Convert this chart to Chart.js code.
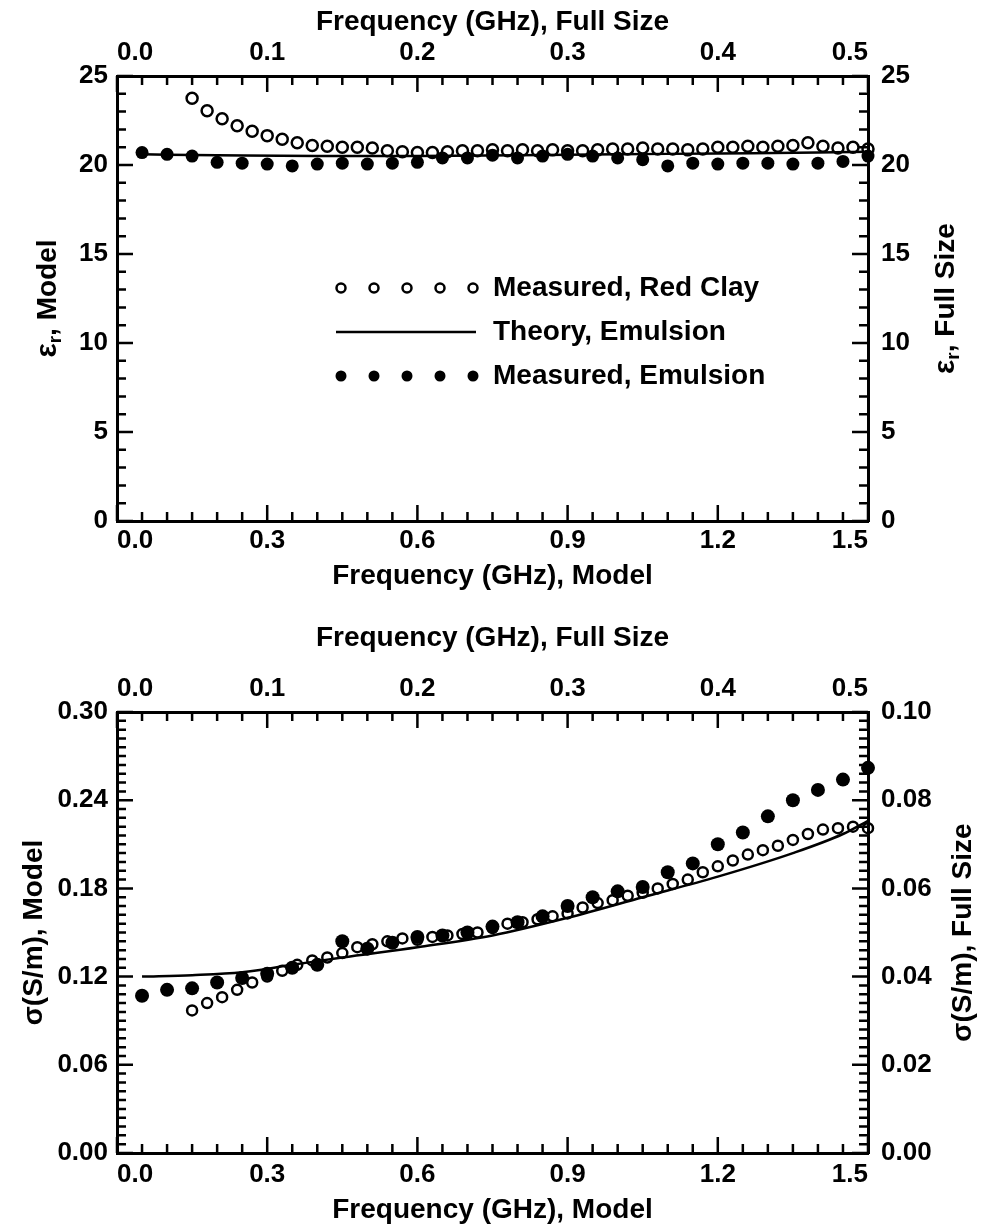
<!DOCTYPE html>
<html>
<head>
<meta charset="utf-8">
<script src="https://cdn.jsdelivr.net/npm/chart.js@4.4.1/dist/chart.umd.min.js"></script>
<style>
  body { margin: 0; background: #fff; }
  canvas { position: absolute; left: 0; }
  #epsChart { top: 0; }
  #sigmaChart { top: 620px; }
</style>
</head>
<body>
<canvas id="epsChart" width="983" height="600"></canvas>
<canvas id="sigmaChart" width="983" height="612"></canvas>
<script>
// tick values / labels
const freqModelTicks = [0, 0.3, 0.6, 0.9, 1.2, 1.5];
const freqModelLabels = ['0.0', '0.3', '0.6', '0.9', '1.2', '1.5'];
const freqFullTicks = [0, 0.1, 0.2, 0.3, 0.4, 0.5];
const freqFullLabels = ['0.0', '0.1', '0.2', '0.3', '0.4', '0.5'];
const epsTicks = [0, 5, 10, 15, 20, 25];
const epsLabels = ['0', '5', '10', '15', '20', '25'];
const sigModelTicks = [0, 0.06, 0.12, 0.18, 0.24, 0.30];
const sigModelLabels = ['0.00', '0.06', '0.12', '0.18', '0.24', '0.30'];
const sigFullTicks = [0, 0.02, 0.04, 0.06, 0.08, 0.10];
const sigFullLabels = ['0.00', '0.02', '0.04', '0.06', '0.08', '0.10'];

// measured red clay (model GHz)
const clayFreq = [0.15, 0.18, 0.21, 0.24, 0.27, 0.30, 0.33, 0.36, 0.39, 0.42, 0.45, 0.48, 0.51, 0.54, 0.57,
  0.60, 0.63, 0.66, 0.69, 0.72, 0.75, 0.78, 0.81, 0.84, 0.87, 0.90, 0.93, 0.96, 0.99, 1.02, 1.05, 1.08,
  1.11, 1.14, 1.17, 1.20, 1.23, 1.26, 1.29, 1.32, 1.35, 1.38, 1.41, 1.44, 1.47, 1.50];
const clayEps = [23.75, 23.05, 22.6, 22.2, 21.9, 21.65, 21.45, 21.25, 21.1, 21.05, 21.0, 21.0, 20.95, 20.8, 20.75,
  20.7, 20.7, 20.75, 20.8, 20.8, 20.85, 20.8, 20.85, 20.8, 20.85, 20.8, 20.8, 20.85, 20.9, 20.9, 20.95, 20.9,
  20.9, 20.85, 20.9, 21.0, 21.0, 21.05, 21.0, 21.05, 21.1, 21.25, 21.05, 20.95, 21.0, 20.9];
const claySigma = [0.097, 0.102, 0.106, 0.111, 0.116, 0.120, 0.124, 0.128, 0.131, 0.133, 0.136, 0.140, 0.142, 0.144, 0.146,
  0.145, 0.147, 0.148, 0.149, 0.150, 0.153, 0.156, 0.157, 0.159, 0.161, 0.163, 0.167, 0.170, 0.172, 0.175, 0.177, 0.180,
  0.183, 0.186, 0.191, 0.195, 0.199, 0.203, 0.206, 0.209, 0.213, 0.217, 0.220, 0.221, 0.222, 0.221];

// measured emulsion
const emulFreq = [0.05, 0.10, 0.15, 0.20, 0.25, 0.30, 0.35, 0.40, 0.45, 0.50, 0.55, 0.60, 0.65, 0.70, 0.75,
  0.80, 0.85, 0.90, 0.95, 1.00, 1.05, 1.10, 1.15, 1.20, 1.25, 1.30, 1.35, 1.40, 1.45, 1.50];
const emulEps = [20.7, 20.6, 20.5, 20.15, 20.1, 20.05, 19.95, 20.05, 20.1, 20.05, 20.1, 20.15, 20.4, 20.4, 20.55,
  20.4, 20.5, 20.6, 20.5, 20.4, 20.3, 19.95, 20.1, 20.05, 20.1, 20.1, 20.05, 20.1, 20.2, 20.5];
const emulSigma = [0.107, 0.111, 0.112, 0.116, 0.119, 0.122, 0.126, 0.128, 0.144, 0.139, 0.143, 0.147, 0.148, 0.150, 0.154,
  0.157, 0.161, 0.168, 0.174, 0.178, 0.181, 0.191, 0.197, 0.210, 0.218, 0.229, 0.240, 0.247, 0.254, 0.262];

// theory, emulsion
const theoryFreqEps = [0.05, 0.2, 0.4, 0.6, 0.8, 1.0, 1.2, 1.4, 1.5];
const theoryEps = [20.6, 20.55, 20.5, 20.5, 20.55, 20.6, 20.65, 20.7, 20.75];
const theoryFreqSig = [0.05, 0.15, 0.25, 0.35, 0.45, 0.6, 0.75, 0.9, 1.05, 1.2, 1.35, 1.45, 1.5];
const theorySigma = [0.120, 0.121, 0.123, 0.128, 0.133, 0.140, 0.148, 0.160, 0.174, 0.188, 0.204, 0.217, 0.226];

const FONT = "'Liberation Sans', Arial, sans-serif";
Chart.defaults.font.family = FONT;
Chart.defaults.font.weight = 'bold';
Chart.defaults.color = '#000';

function pts(xs, ys) {
    return xs.map((x, i) => ({x: x, y: ys[i]}));
}

function fixedAxis(position, min, max, ticks, labels, size, padding, title) {
    const horiz = position === 'top' || position === 'bottom';
    return {
        type: 'linear',
        position: position,
        min: min,
        max: max,
        afterBuildTicks: s => { s.ticks = ticks.map(v => ({value: v})); },
        afterFit: s => { if (horiz) s.height = size; else s.width = size; },
        ticks: {
            callback: (v, i) => labels[i],
            font: {size: 26, weight: 'bold'},
            color: '#000',
            padding: padding,
            align: horiz ? 'inner' : 'center'
        },
        grid: {display: false, drawTicks: false},
        border: {display: true, color: '#000', width: 3},
        title: title ? {
            display: true,
            text: title.text,
            font: {size: 28, weight: 'bold'},
            color: '#000',
            padding: title.padding
        } : {display: false}
    };
}

// inward tick marks on all four sides, plus the two vertical titles
const frameMarks = {
    id: 'frameMarks',
    afterDraw(chart, args, o) {
        const {ctx, chartArea: a, scales} = chart;
        ctx.save();
        ctx.strokeStyle = '#000';
        ctx.lineWidth = 2.5;
        ctx.beginPath();
        for (let i = 0; i <= o.xCount; i++) {
            const px = scales.x.getPixelForValue(i * o.xStep);
            const len = i % o.xMajor === 0 ? 16 : 9;
            ctx.moveTo(px, a.bottom); ctx.lineTo(px, a.bottom - len);
            ctx.moveTo(px, a.top); ctx.lineTo(px, a.top + len);
        }
        for (let i = 0; i <= o.yCount; i++) {
            const py = scales.y.getPixelForValue(i * o.yStep);
            const len = i % o.yMajor === 0 ? 16 : 9;
            ctx.moveTo(a.left, py); ctx.lineTo(a.left + len, py);
            ctx.moveTo(a.right, py); ctx.lineTo(a.right - len, py);
        }
        ctx.stroke();

        // rotated axis titles (both read bottom to top)
        const midY = (a.top + a.bottom) / 2;
        [[o.leftX, o.leftTitle], [o.rightX, o.rightTitle]].forEach(([x, parts]) => {
            ctx.save();
            ctx.translate(x, midY);
            ctx.rotate(-Math.PI / 2);
            ctx.fillStyle = '#000';
            ctx.textBaseline = 'middle';
            let w = 0;
            parts.forEach(p => {
                ctx.font = 'bold ' + p.size + 'px ' + FONT;
                w += ctx.measureText(p.t).width;
            });
            let cx = -w / 2;
            parts.forEach(p => {
                ctx.font = 'bold ' + p.size + 'px ' + FONT;
                ctx.fillText(p.t, cx, p.dy || 0);
                cx += ctx.measureText(p.t).width;
            });
            ctx.restore();
        });
        ctx.restore();
    }
};

// legend box inside the upper panel
const panelLegend = {
    id: 'panelLegend',
    afterDraw(chart, args, o) {
        if (!o.rows) return;
        const ctx = chart.ctx;
        ctx.save();
        ctx.fillStyle = '#000';
        ctx.strokeStyle = '#000';
        ctx.font = 'bold 28px ' + FONT;
        ctx.textBaseline = 'middle';
        o.rows.forEach((r, k) => {
            const y = o.y + k * o.gap;
            if (r.kind === 'line') {
                ctx.lineWidth = 2.5;
                ctx.beginPath();
                ctx.moveTo(o.x0, y); ctx.lineTo(o.x0 + 140, y);
                ctx.stroke();
            } else {
                for (let j = 0; j < 5; j++) {
                    ctx.beginPath();
                    ctx.arc(o.x0 + 5 + j * 33, y, r.kind === 'open' ? 4.5 : 5.5, 0, Math.PI * 2);
                    if (r.kind === 'open') { ctx.lineWidth = 2.5; ctx.stroke(); } else ctx.fill();
                }
            }
            ctx.fillText(r.text, o.textX, y);
        });
        ctx.restore();
    }
};

function createPanel(canvasId, cfg) {
    const ctx = document.getElementById(canvasId).getContext('2d');
    return new Chart(ctx, {
        type: 'scatter',
        data: {
            datasets: [{
                label: 'Theory, Emulsion',
                data: cfg.theory,
                showLine: true,
                borderColor: '#000',
                borderWidth: 2.5,
                pointRadius: 0,
                cubicInterpolationMode: 'monotone',
                clip: false
            }, {
                label: 'Measured, Emulsion',
                data: cfg.emulsion,
                pointStyle: 'circle',
                pointRadius: cfg.dotR,
                pointBackgroundColor: '#000',
                pointBorderColor: '#000',
                pointBorderWidth: 0,
                clip: false
            }, {
                label: 'Measured, Red Clay',
                data: cfg.clay,
                pointStyle: 'circle',
                pointRadius: cfg.ringR,
                pointBackgroundColor: 'rgba(0,0,0,0)',
                pointBorderColor: '#000',
                pointBorderWidth: 2.5,
                clip: false
            }]
        },
        options: {
            responsive: false,
            animation: false,
            events: [],
            layout: {padding: 0},
            plugins: {
                legend: {display: false},
                tooltip: {enabled: false},
                frameMarks: cfg.marks,
                panelLegend: cfg.legend || {}
            },
            scales: cfg.scales
        },
        plugins: [frameMarks, panelLegend]
    });
}

createPanel('epsChart', {
    theory: pts(theoryFreqEps, theoryEps),
    emulsion: pts(emulFreq, emulEps),
    clay: pts(clayFreq, clayEps),
    dotR: 6.5,
    ringR: 5.5,
    scales: {
        x: fixedAxis('bottom', 0, 1.5, freqModelTicks, freqModelLabels, 79, 4,
            {text: 'Frequency (GHz), Model', padding: {top: 0, bottom: 7}}),
        x2: fixedAxis('top', 0, 0.5, freqFullTicks, freqFullLabels, 76, 8,
            {text: 'Frequency (GHz), Full Size', padding: {top: 5, bottom: 0}}),
        y: fixedAxis('left', 0, 25, epsTicks, epsLabels, 117, 9),
        y2: fixedAxis('right', 0, 25, epsTicks, epsLabels, 115, 13)
    },
    marks: {
        xCount: 30, xStep: 0.05, xMajor: 6,
        yCount: 25, yStep: 1, yMajor: 5,
        leftX: 48, rightX: 946,
        leftTitle: [{t: 'ε', size: 30}, {t: 'r', size: 19, dy: 8}, {t: ', Model', size: 28}],
        rightTitle: [{t: 'ε', size: 30}, {t: 'r', size: 19, dy: 8}, {t: ', Full Size', size: 28}]
    },
    legend: {
        x0: 336, textX: 493, y: 288, gap: 44,
        rows: [
            {kind: 'open', text: 'Measured, Red Clay'},
            {kind: 'line', text: 'Theory, Emulsion'},
            {kind: 'dot', text: 'Measured, Emulsion'}
        ]
    }
});

createPanel('sigmaChart', {
    theory: pts(theoryFreqSig, theorySigma),
    emulsion: pts(emulFreq, emulSigma),
    clay: pts(clayFreq, claySigma),
    dotR: 7,
    ringR: 5,
    scales: {
        x: fixedAxis('bottom', 0, 1.5, freqModelTicks, freqModelLabels, 79, 6,
            {text: 'Frequency (GHz), Model', padding: {top: 0, bottom: 5}}),
        x2: fixedAxis('top', 0, 0.5, freqFullTicks, freqFullLabels, 92, 8,
            {text: 'Frequency (GHz), Full Size', padding: {top: 1, bottom: 0}}),
        y: fixedAxis('left', 0, 0.30, sigModelTicks, sigModelLabels, 117, 9),
        y2: fixedAxis('right', 0, 0.10, sigFullTicks, sigFullLabels, 115, 13)
    },
    marks: {
        xCount: 30, xStep: 0.05, xMajor: 6,
        yCount: 50, yStep: 0.006, yMajor: 10,
        leftX: 34, rightX: 963,
        leftTitle: [{t: 'σ(S/m), Model', size: 28}],
        rightTitle: [{t: 'σ(S/m), Full Size', size: 28}]
    }
});
</script>
</body>
</html>
